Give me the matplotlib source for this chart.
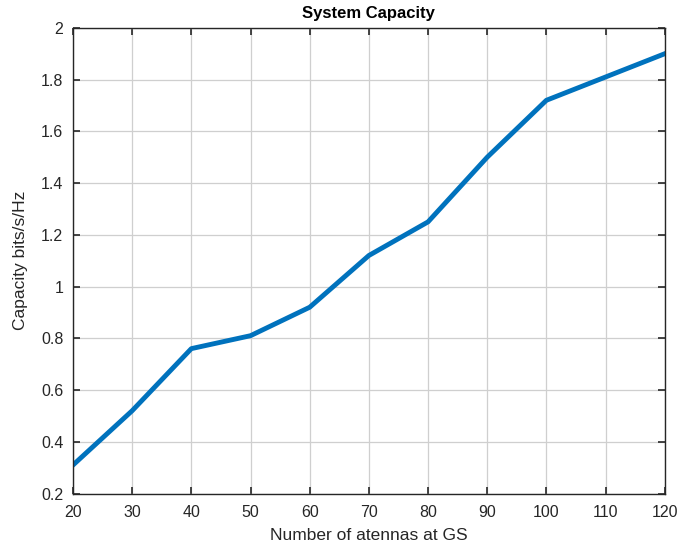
import matplotlib
matplotlib.use('Agg')
import matplotlib.pyplot as plt

antennas = [20, 30, 40, 50, 60, 70, 80, 90, 100, 110, 120]
capacity = [0.31, 0.52, 0.76, 0.81, 0.92, 1.12, 1.25, 1.50, 1.72, 1.81, 1.90]

plt.rcParams['font.family'] = ['Liberation Sans', 'DejaVu Sans']

fig = plt.figure(figsize=(6.79, 5.57), dpi=100)
ax = fig.add_axes([0.1075, 0.114, 0.8715, 0.836])

ax.plot(antennas, capacity, color='#0072BD', linewidth=3.5)

ax.set_xlim(20, 120)
ax.set_ylim(0.2, 2)
ax.set_xticks(range(20, 121, 10))
ax.set_yticks([0.2, 0.4, 0.6, 0.8, 1, 1.2, 1.4, 1.6, 1.8, 2])
ax.set_yticklabels(['0.2', '0.4', '0.6', '0.8', '1', '1.2', '1.4', '1.6', '1.8', '2'])
ax.grid(True, color='#cfcfcf', linewidth=0.9)
ax.tick_params(direction='in', length=5, width=1.2, labelsize=11.5, colors='#262626',
               top=True, right=True)
ax.tick_params(axis='x', pad=8)
ax.tick_params(axis='y', pad=7)
for s in ax.spines.values():
    s.set_color('#262626')
    s.set_linewidth(1.0)

ax.set_title('System Capacity', fontsize=12, fontweight='bold', pad=7)
ax.set_xlabel('Number of atennas at GS', fontsize=12.5, color='#262626', labelpad=6)
ax.set_ylabel('Capacity bits/s/Hz', fontsize=12.5, color='#262626', labelpad=9)

fig.savefig('out.png', dpi=100)
